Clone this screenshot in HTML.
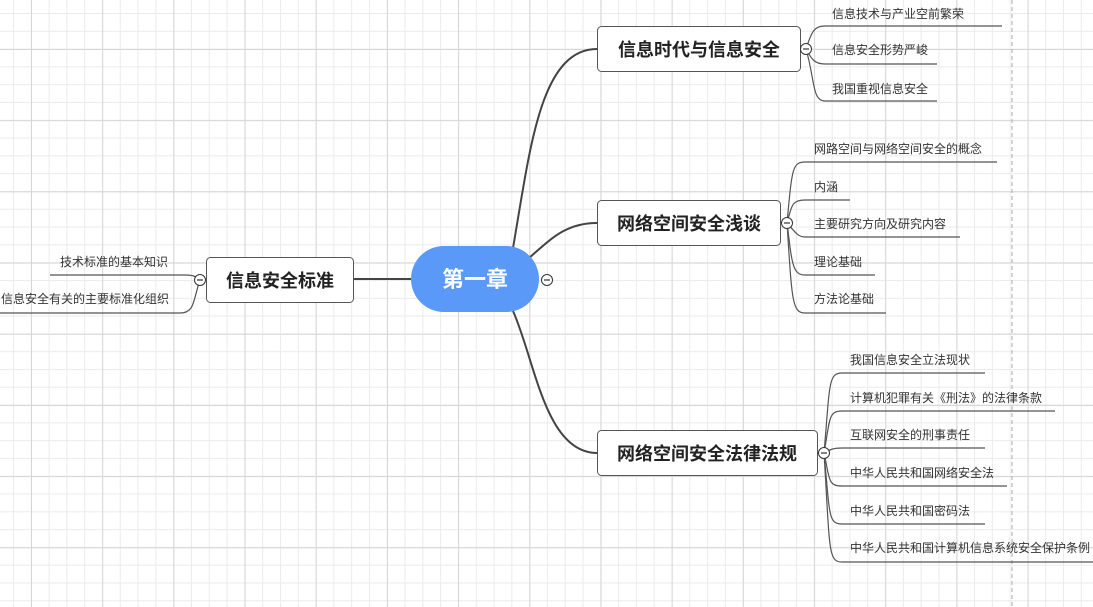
<!DOCTYPE html>
<html><head><meta charset="utf-8"><style>
html,body{margin:0;padding:0;}
body{width:1093px;height:607px;overflow:hidden;position:relative;background-color:#fff;
background-image:
linear-gradient(to right,#d6d6d6 1px,transparent 1px),
linear-gradient(to bottom,#d6d6d6 1px,transparent 1px),
linear-gradient(to right,#ebebeb 1px,transparent 1px),
linear-gradient(to bottom,#ebebeb 1px,transparent 1px);
background-size:71.2px 71.2px,71.2px 71.2px,17.8px 17.8px,17.8px 17.8px;
background-position:31px 0,0 49px,13px 0,0 13px;
font-family:"Liberation Sans","Noto Sans CJK SC",sans-serif;}
svg{position:absolute;left:0;top:0;}
.n{font-size:18px;font-weight:bold;fill:#222;}
.c{font-size:12px;fill:#333;}
</style></head><body>
<svg width="1093" height="607" viewBox="0 0 1093 607">
<line x1="1012" y1="0" x2="1012" y2="607" stroke="#aaa" stroke-dasharray="4,3"/>
<g fill="none" stroke="#444" stroke-width="2">
<path d="M513 248 C530 150 540 49 597 49"/>
<path d="M529 258 C550 240 565 223 597 223"/>
<path d="M513 311 C535 360 545 453 597 453"/>
<line x1="411" y1="279" x2="353" y2="279"/>
</g>
<g fill="none" stroke="#555" stroke-width="1.2">
<path d="M806 49 C812 30 815 26 825 26 L1002 26"/>
<path d="M806 49 C812 60 815 64 825 64 L937 64"/>
<path d="M806 49 C815 80 812 101 825 101 L937 101"/>
<path d="M787 223 C792 170 792 162 805 162 L997 162"/>
<path d="M787 223 C792 205 792 200 805 200 L850 200"/>
<path d="M787 223 C795 232 798 237 805 237 L960 237"/>
<path d="M787 223 C792 262 792 275 805 275 L875 275"/>
<path d="M787 223 C792 300 792 313 805 313 L886 313"/>
<path d="M824 453 C830 385 828 373 842 373 L985 373"/>
<path d="M824 453 C830 420 828 411 842 411 L1055 411"/>
<path d="M824 453 C830 450 832 448 842 448 L985 448"/>
<path d="M824 453 C830 480 828 486 842 486 L1007 486"/>
<path d="M824 453 C830 515 828 524 842 524 L985 524"/>
<path d="M824 453 C830 550 828 562 842 562 L1093 562"/>
<path d="M200 280 C195 276 193 275 185 275 L50 275"/>
<path d="M200 280 C193 300 195 313 180 313 L0 313"/>
</g>
<rect x="411" y="246" width="128" height="66" rx="33" fill="#5a99f7"/>
<text x="475" y="287" text-anchor="middle" font-size="22" font-weight="bold" fill="#fff">第一章</text>
<g fill="#fff" stroke="#555" stroke-width="1">
<rect x="597.5" y="26.5" width="203" height="45" rx="4"/>
<rect x="597.5" y="200.5" width="183" height="45" rx="4"/>
<rect x="597.5" y="430.5" width="220" height="45" rx="4"/>
<rect x="206.5" y="257.5" width="147" height="45" rx="4"/>
</g>
<text class="n" x="699" y="56" text-anchor="middle">信息时代与信息安全</text>
<text class="n" x="689" y="230" text-anchor="middle">网络空间安全浅谈</text>
<text class="n" x="707" y="460" text-anchor="middle">网络空间安全法律法规</text>
<text class="n" x="280" y="287" text-anchor="middle">信息安全标准</text>
<g fill="#fff" stroke="#333" stroke-width="1">
<circle cx="547" cy="280" r="5.5"/><circle cx="806" cy="49" r="5.5"/><circle cx="787" cy="223" r="5.5"/><circle cx="824" cy="453" r="5.5"/><circle cx="200" cy="280" r="5.5"/>
</g>
<g stroke="#333" stroke-width="1.2">
<line x1="544" y1="280" x2="550" y2="280"/><line x1="803" y1="49" x2="809" y2="49"/><line x1="784" y1="223" x2="790" y2="223"/><line x1="821" y1="453" x2="827" y2="453"/><line x1="197" y1="280" x2="203" y2="280"/>
</g>
<g class="c">
<text class="c" x="832" y="18">信息技术与产业空前繁荣</text>
<text class="c" x="832" y="54">信息安全形势严峻</text>
<text class="c" x="832" y="93">我国重视信息安全</text>
<text class="c" x="814" y="153">网路空间与网络空间安全的概念</text>
<text class="c" x="814" y="191">内涵</text>
<text class="c" x="814" y="228">主要研究方向及研究内容</text>
<text class="c" x="814" y="266">理论基础</text>
<text class="c" x="814" y="303">方法论基础</text>
<text class="c" x="850" y="364">我国信息安全立法现状</text>
<text class="c" x="850" y="402">计算机犯罪有关《刑法》的法律条款</text>
<text class="c" x="850" y="439">互联网安全的刑事责任</text>
<text class="c" x="850" y="477">中华人民共和国网络安全法</text>
<text class="c" x="850" y="515">中华人民共和国密码法</text>
<text class="c" x="850" y="552">中华人民共和国计算机信息系统安全保护条例</text>
<text class="c" x="60" y="266">技术标准的基本知识</text>
<text class="c" x="1" y="303">信息安全有关的主要标准化组织</text>
</g>
</svg>
</body></html>
